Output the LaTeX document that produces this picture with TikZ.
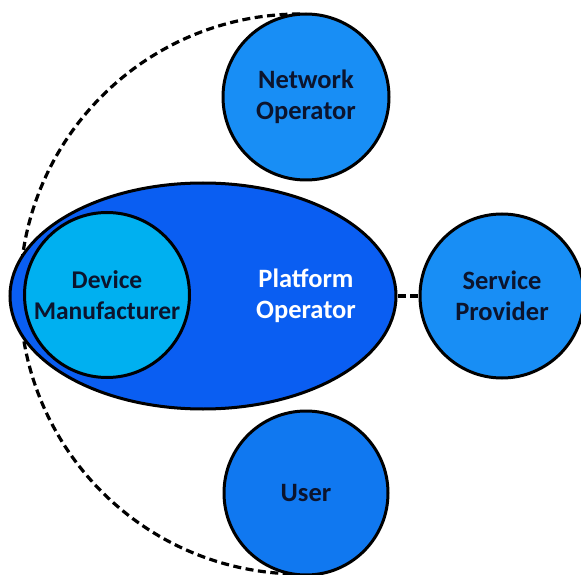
\documentclass[tikz,border=0pt]{standalone}
\usepackage{fontspec}
\setmainfont{Carlito}
\usetikzlibrary{shapes.geometric}
\definecolor{ellblue}{RGB}{10,94,242}
\definecolor{dmblue}{RGB}{0,176,240}
\definecolor{midblue}{RGB}{24,142,245}
\definecolor{userblue}{RGB}{16,120,240}
\definecolor{txt}{RGB}{12,20,45}
\tikzset{
  role/.style={circle, draw=black, line width=3pt, inner sep=0pt, text=txt,
    font=\fontsize{26.5}{31}\selectfont\bfseries, align=center},
  dashline/.style={draw=black, line width=3.2pt, dash pattern=on 8pt off 4.5pt}
}
\begin{document}
\begin{tikzpicture}[x=1pt,y=1pt]
\useasboundingbox (0,0) rectangle (581,574);
\coordinate (arctop) at (300,560);
\draw[dashline] (arctop) arc[start angle=90, end angle=270, radius=280] coordinate (arcbot);
\node[ellipse, draw=black, line width=3pt, fill=ellblue, minimum width=386pt, minimum height=226pt, inner sep=0pt] (po) at (203,278) {};
\node[role, fill=dmblue, minimum size=165pt, font=\fontsize{25.5}{31}\selectfont\bfseries] (dm) at (107,279) {Device\\Manufacturer};
\node[font=\fontsize{26.5}{31}\selectfont\bfseries, text=white, align=center] (pot) at (306,278) {Platform\\Operator};
\node[role, fill=midblue, minimum size=166pt] (no) at (306,477) {Network\\Operator};
\node[role, fill=midblue, minimum size=164pt] (sp) at (502,278) {Service\\Provider};
\node[role, fill=userblue, minimum size=164pt] (us) at (306,81) {User};
\draw[dashline] (po.east) -- (sp.west);
\end{tikzpicture}
\end{document}
